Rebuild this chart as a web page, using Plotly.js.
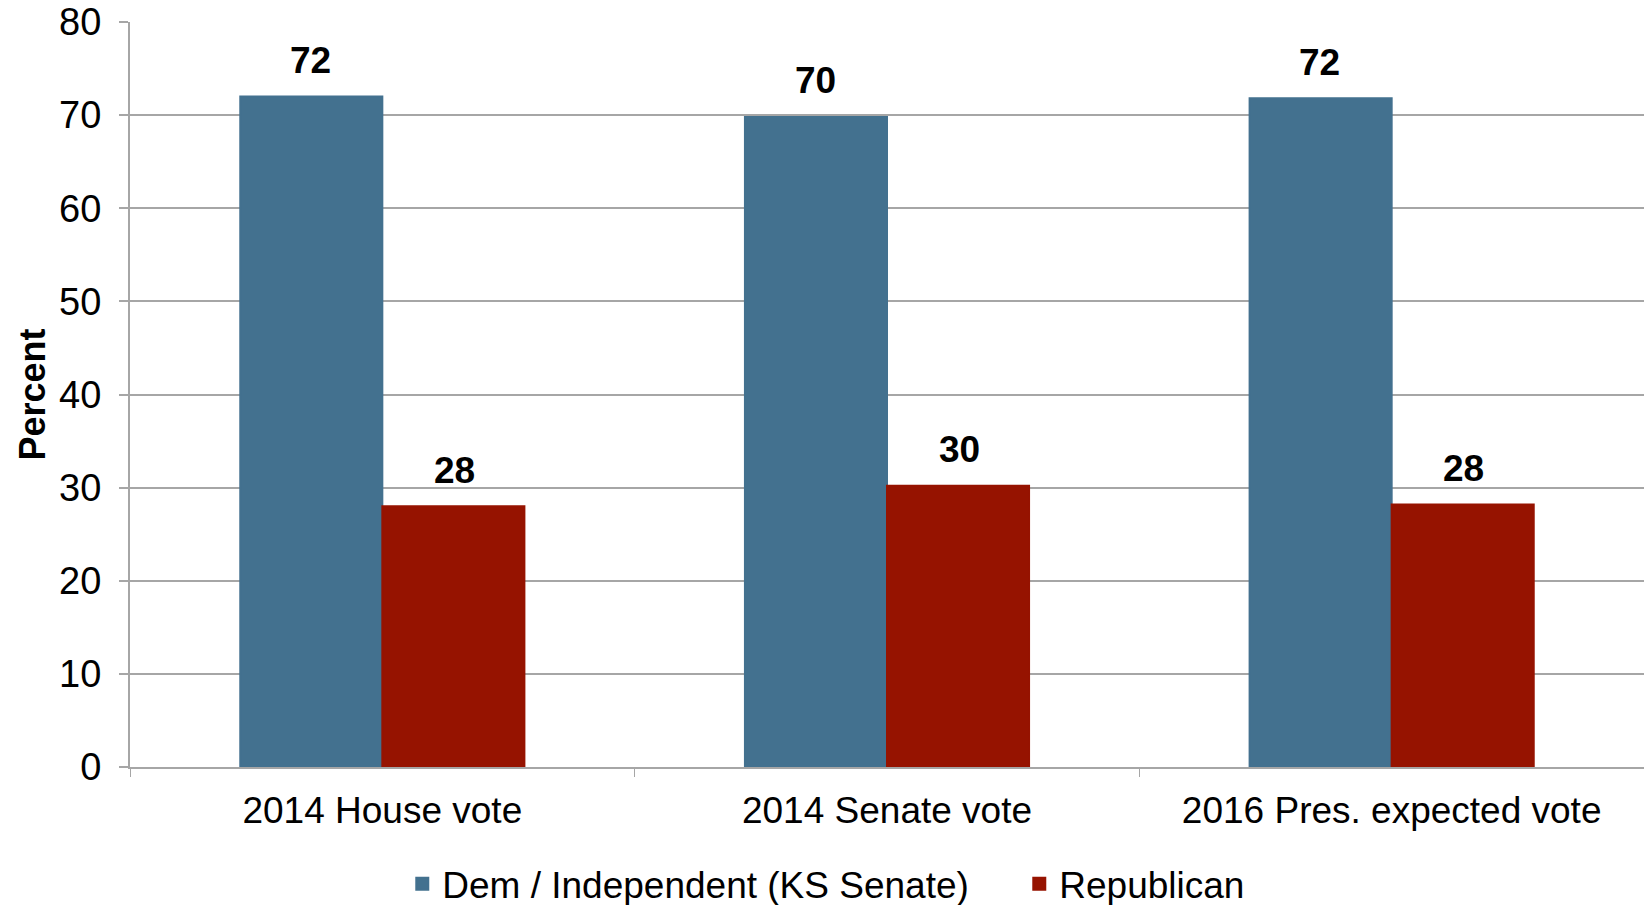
<!DOCTYPE html>
<html>
<head>
<meta charset="utf-8">
<script src="https://cdn.plot.ly/plotly-3.0.1.min.js"></script>
<style>html,body{margin:0;padding:0;background:#fff;}#chart{width:1644px;height:905px;}</style>
</head>
<body>
<div id="chart"></div>
<script>
const categories = ["2014 House vote", "2014 Senate vote", "2016 Pres. expected vote"];
const demValues = [72.0, 69.8, 71.8];
const repValues = [28.0, 30.2, 28.2];
const seriesNames = ["Dem / Independent (KS Senate)", "Republican"];
const yTicks = [0, 10, 20, 30, 40, 50, 60, 70, 80];

const FONT = '"Liberation Sans", Arial, Helvetica, sans-serif';
const BLUE = '#43718f';
const RED = '#961300';

const traces = [
  {type: 'bar', x: categories, y: demValues, name: seriesNames[0], marker: {color: BLUE, line: {color: BLUE, width: 2}}, hoverinfo: 'none'},
  {type: 'bar', x: categories, y: repValues, name: seriesNames[1], marker: {color: RED, line: {color: RED, width: 2}}, hoverinfo: 'none'}
];

const annotations = [];
categories.forEach((c, i) => {
  annotations.push({x: c, y: demValues[i], text: String(Math.round(demValues[i])), showarrow: false,
    xshift: -72, yshift: 36, yanchor: 'middle', font: {family: FONT, size: 37, color: '#000', weight: 'bold'}});
  annotations.push({x: c, y: repValues[i], text: String(Math.round(repValues[i])), showarrow: false,
    xshift: 72, yshift: 36, yanchor: 'middle', font: {family: FONT, size: 37, color: '#000', weight: 'bold'}});
});

const layout = {
  width: 1644, height: 905,
  margin: {l: 130, r: 0, t: 22, b: 138},
  paper_bgcolor: '#fff', plot_bgcolor: '#fff',
  font: {family: FONT, size: 37, color: '#000'},
  barmode: 'group', bargap: 0.437, bargroupgap: 0,
  showlegend: true,
  legend: {orientation: 'h', xref: 'container', yref: 'container', x: 0.62, xanchor: 'center', y: 0.023, yanchor: 'middle',
    font: {family: FONT, size: 37, color: '#000'}, entrywidth: 572, entrywidthmode: 'pixels', bgcolor: 'rgba(0,0,0,0)'},
  xaxis: {type: 'category', showline: true, linecolor: '#a6a6a6', linewidth: 2, ticks: 'outside', tickson: 'boundaries',
    ticklen: 8, tickcolor: '#a6a6a6', tickwidth: 1, showgrid: false, zeroline: false, ticklabelstandoff: 10,
    tickfont: {family: FONT, size: 37, color: '#000'}, fixedrange: true},
  yaxis: {range: [0, 80], tickvals: yTicks, showline: true, linecolor: '#a6a6a6', linewidth: 2, ticks: 'outside', ticklen: 9,
    tickcolor: '#a6a6a6', tickwidth: 2, showgrid: true, gridcolor: '#a6a6a6', gridwidth: 2, zeroline: false,
    ticklabelstandoff: 10, tickfont: {family: FONT, size: 38, color: '#000'},
    title: {text: '<b>Percent</b>', font: {family: FONT, size: 36, color: '#000'}, standoff: 3}, fixedrange: true},
  annotations: annotations
};

Plotly.newPlot('chart', traces, layout, {displayModeBar: false, staticPlot: true});
</script>
</body>
</html>
